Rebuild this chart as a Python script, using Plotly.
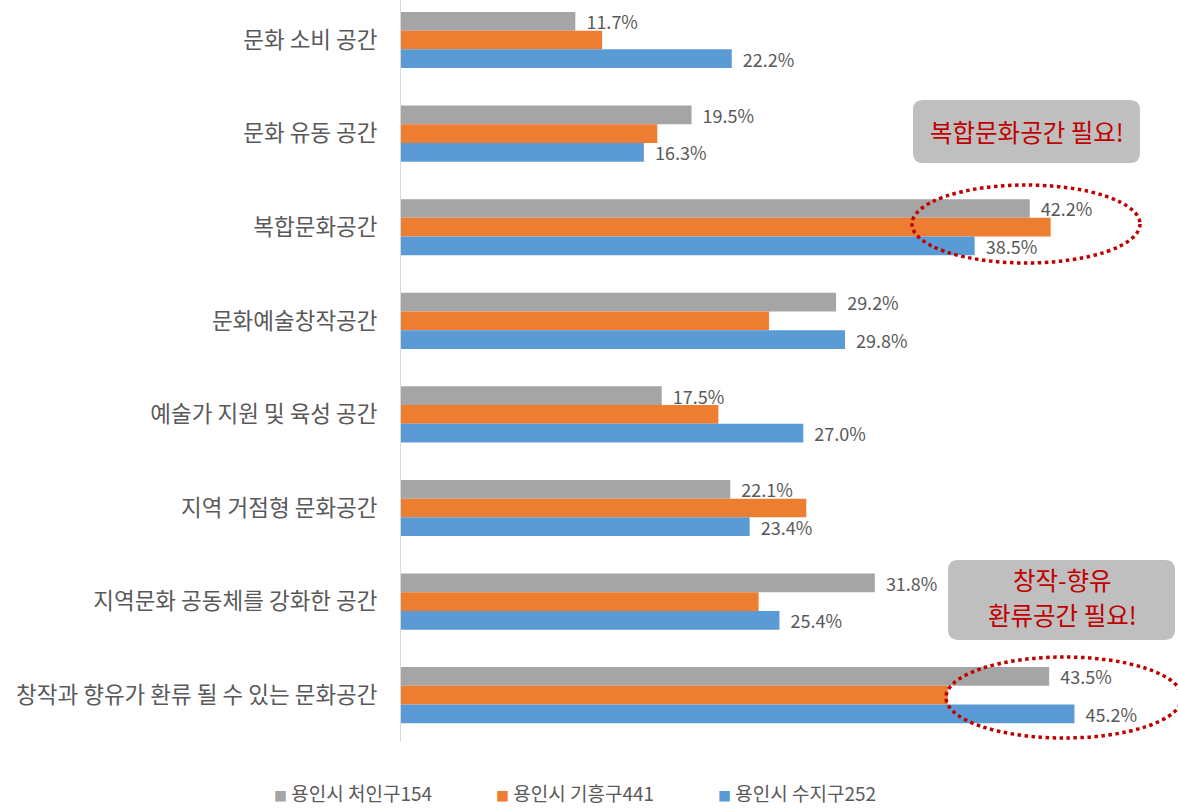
import plotly.graph_objects as go

# Survey: type of cultural space needed, share of respondents by district (%)
categories = [
    "문화 소비 공간",
    "문화 유동 공간",
    "복합문화공간",
    "문화예술창작공간",
    "예술가 지원 및 육성 공간",
    "지역 거점형 문화공간",
    "지역문화 공동체를 강화한 공간",
    "창작과 향유가 환류 될 수 있는 문화공간",
]
cheoin = [11.7, 19.5, 42.2, 29.2, 17.5, 22.1, 31.8, 43.5]
giheung = [13.5, 17.2, 43.6, 24.7, 21.3, 27.2, 24.0, 36.7]
suji = [22.2, 16.3, 38.5, 29.8, 27.0, 23.4, 25.4, 45.2]

series_names = ["용인시 처인구154", "용인시 기흥구441", "용인시 수지구252"]
series_colors = ["#a5a5a5", "#ed7d31", "#5b9bd5"]
show_labels = [True, False, True]

W, H = 1178, 809
M_L, M_R, M_T, M_B = 401, 32, 0, 67
FONT = "Noto Sans CJK KR"
TEXT_GRAY = "#595959"
RED = "#c00000"

fig = go.Figure()
for name, vals, color, lab in zip(series_names, [cheoin, giheung, suji], series_colors, show_labels):
    fig.add_trace(go.Bar(
        y=categories,
        x=vals,
        name=name,
        orientation="h",
        marker=dict(color=color, line=dict(width=0)),
        texttemplate="\u00a0\u00a0%{x:.1f}%" if lab else None,
        textposition="outside" if lab else "none",
        textfont=dict(family=FONT, size=18, color=TEXT_GRAY),
        constraintext="none",
        cliponaxis=False,
        showlegend=False,
    ))

plot_w = W - M_L - M_R
plot_h = H - M_T - M_B


def px_to_paper(px, py):
    return (px - M_L) / plot_w, (plot_h + M_T - py) / plot_h


def rounded_box(x0, y0, x1, y1, r):
    # Rounded rectangle path in paper coordinates, given pixel corners
    def P(x, y):
        a, b = px_to_paper(x, y)
        return f"{a:.5f},{b:.5f}"
    return (
        f"M {P(x0 + r, y0)} L {P(x1 - r, y0)} Q {P(x1, y0)} {P(x1, y0 + r)} "
        f"L {P(x1, y1 - r)} Q {P(x1, y1)} {P(x1 - r, y1)} "
        f"L {P(x0 + r, y1)} Q {P(x0, y1)} {P(x0, y1 - r)} "
        f"L {P(x0, y0 + r)} Q {P(x0, y0)} {P(x0 + r, y0)} Z"
    )


def ellipse(x0, y0, x1, y1):
    a0, b0 = px_to_paper(x0, y1)
    a1, b1 = px_to_paper(x1, y0)
    return dict(type="circle", xref="paper", yref="paper", x0=a0, x1=a1, y0=b0, y1=b1,
                line=dict(color=RED, width=3.5, dash="dot"), layer="above")


def label(text, px, py, size, color, xanchor="center"):
    a, b = px_to_paper(px, py)
    return dict(text=text, x=a, y=b, xref="paper", yref="paper", showarrow=False,
                xanchor=xanchor, yanchor="middle",
                font=dict(family=FONT, size=size, color=color))


shapes = [
    dict(type="path", xref="paper", yref="paper", path=rounded_box(913, 100, 1140, 163, 10),
         fillcolor="#bfbfbf", line=dict(width=0), layer="above"),
    dict(type="path", xref="paper", yref="paper", path=rounded_box(948, 560, 1175, 640, 10),
         fillcolor="#bfbfbf", line=dict(width=0), layer="above"),
    ellipse(912, 185, 1140, 263),
    ellipse(946, 657, 1182, 738),
]

annotations = [
    label("복합문화공간 필요!", 1027, 131, 24.5, RED),
    label("창작-향유", 1062, 579, 24.5, RED),
    label("환류공간 필요!", 1062, 614, 24.5, RED),
]

# Legend built as text items: colored square + series name
legend_x = [272, 494, 716]
for name, color, x in zip(series_names, series_colors, legend_x):
    annotations.append(label(
        f"<span style='color:{color};font-size:13px'>■</span> {name}",
        x, 792, 19, TEXT_GRAY, xanchor="left"))

fig.update_layout(
    width=W, height=H,
    margin=dict(l=M_L, r=M_R, t=M_T, b=M_B),
    paper_bgcolor="white",
    plot_bgcolor="white",
    barmode="group",
    bargap=0.4,
    bargroupgap=0,
    font=dict(family=FONT, color=TEXT_GRAY),
    showlegend=False,
    xaxis=dict(range=[0, 50], visible=False, showgrid=False, zeroline=False),
    yaxis=dict(
        range=[7.5, -0.4275],
        showline=True, linecolor="#d9d9d9", linewidth=1,
        showgrid=False, ticks="", ticklabelstandoff=18,
        tickfont=dict(family=FONT, size=22.5, color=TEXT_GRAY),
    ),
    shapes=shapes,
    annotations=annotations,
)

fig.write_html("out.html")
